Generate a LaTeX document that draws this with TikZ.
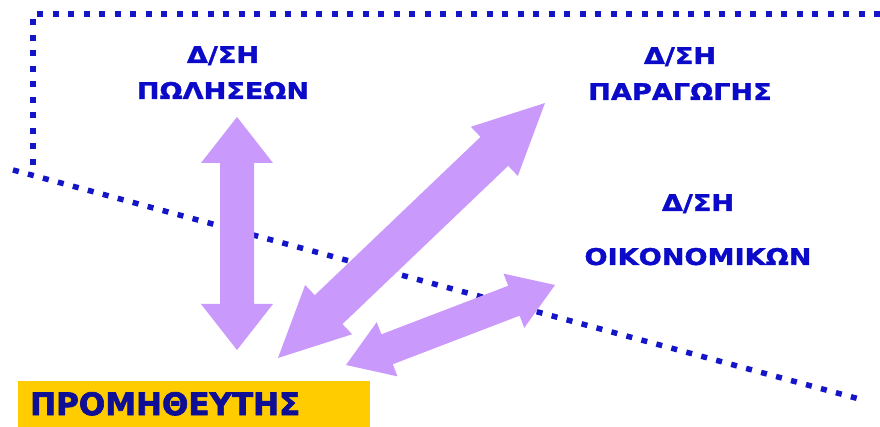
\documentclass[tikz,border=0pt]{standalone}
\usepackage{fontspec}
\newfontfamily\lblfont{DejaVu Sans}[FakeStretch=1.18, FakeBold=1.5]
\newfontfamily\boxfont{DejaVu Sans}[FakeStretch=1.0, FakeBold=2]
\definecolor{dotblue}{RGB}{20,20,200}
\definecolor{lblblue}{RGB}{10,10,200}
\definecolor{boxtext}{RGB}{15,15,150}
\definecolor{boxyellow}{RGB}{255,204,0}
\definecolor{arrowlav}{RGB}{202,153,252}
\tikzset{
  dotline/.style={draw=dotblue, line width=5.5pt, dash pattern=on 6pt off 9.5pt},
  dept/.style={text=lblblue, font=\lblfont\bfseries\fontsize{23}{36}\selectfont, align=center, inner sep=0pt, anchor=base},
  supbox/.style={fill=boxyellow, text=boxtext, font=\boxfont\bfseries\fontsize{31}{36}\selectfont,
    anchor=south west, minimum width=352pt, minimum height=46pt, text width=328pt, align=left, inner xsep=12pt, inner ysep=0pt},
  arrowfill/.style={fill=arrowlav}
}
\newcommand\dblarrow[5]{%
  \pgfpointdiff{\pgfpointanchor{#1}{center}}{\pgfpointanchor{#2}{center}}%
  \pgfgetlastxy{\arrdx}{\arrdy}%
  \pgfmathsetmacro\arrlen{veclen(\arrdx,\arrdy)}%
  \pgfmathsetmacro\arrang{atan2(\arrdy,\arrdx)}%
  \pgfmathsetmacro\arrend{\arrlen-#5}%
  \fill[arrowfill, shift={(#1)}, rotate=\arrang] (0,0) -- (#5,#4) -- (#5,#3) -- (\arrend,#3) -- (\arrend,#4)
    -- (\arrlen,0) -- (\arrend,-#4) -- (\arrend,-#3) -- (#5,-#3) -- (#5,-#4) -- cycle;
}
\begin{document}
\begin{tikzpicture}[x=1pt,y=1pt]
\useasboundingbox[fill=white] (0,0) rectangle (880,427);
% dotted boundary
\coordinate (tr) at (880,413);
\coordinate (tl) at (33,413);
\coordinate (bl) at (33,255);
\coordinate (ds) at (13,257);
\coordinate (de) at (863,27);
\draw[dotline] (tr) -- (tl) -- (bl);
\draw[dotline] (ds) -- (de);
% labels (anchored at the baseline of the last line)
\node[dept] (sales) at (223,328) {Δ/ΣΗ\\ΠΩΛΗΣΕΩΝ};
\node[dept] (prod) at (680,327) {Δ/ΣΗ\\ΠΑΡΑΓΩΓΗΣ};
\node[dept] (fin) at (698,162) {Δ/ΣΗ\\[18pt]ΟΙΚΟΝΟΜΙΚΩΝ};
\node[supbox] (sup) at (18,0) {ΠΡΟΜΗΘΕΥΤΗΣ};
% arrow tips
\coordinate (a1s) at (237,77);
\coordinate (a1e) at (237,310);
\coordinate (a2s) at (278,69);
\coordinate (a2e) at (545,324);
\coordinate (a3s) at (346,62);
\coordinate (a3e) at (555,142);
\dblarrow{a1s}{a1e}{17}{36}{46}
\dblarrow{a2s}{a2e}{20}{34}{70}
\dblarrow{a3s}{a3e}{16}{29}{44}
\end{tikzpicture}
\end{document}
